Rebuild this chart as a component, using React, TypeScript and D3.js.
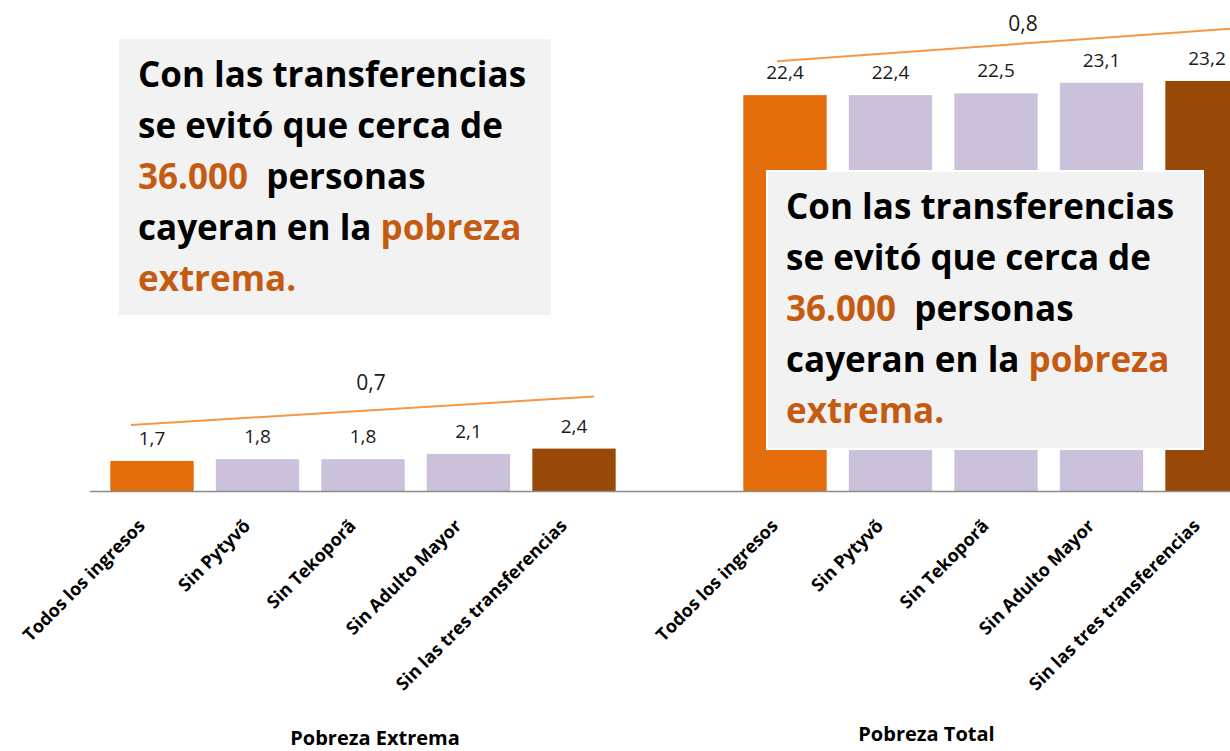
import React from "react";
import * as d3 from "d3";

const categories = ["Todos los ingresos", "Sin Pytyvõ", "Sin Tekoporã", "Sin Adulto Mayor", "Sin las tres transferencias"];
const extremaValues = [1.7, 1.8, 1.8, 2.1, 2.4];
const totalValues = [22.4, 22.4, 22.5, 23.1, 23.2];
const groupNames = ["Pobreza Extrema", "Pobreza Total"];
const gapLabels = ["0,7", "0,8"];
const barColors = ["#e46c0a", "#ccc1da", "#ccc1da", "#ccc1da", "#984807"];

const W = 1230;
const H = 751;
const FONT = "'Open Sans', Lato, sans-serif";

const fmt = (v: number) => d3.format(".1f")(v).replace(".", ",");

function Callout({ x, y, w, h, stroke }: { x: number; y: number; w: number; h: number; stroke?: string }) {
  const lines: { t: string; c: string }[][] = [
    [{ t: "Con las transferencias", c: "#000" }],
    [{ t: "se evitó que cerca de", c: "#000" }],
    [{ t: "36.000 ", c: "#c55a11" }, { t: " personas", c: "#000" }],
    [{ t: "cayeran en la ", c: "#000" }, { t: "pobreza", c: "#c55a11" }],
    [{ t: "extrema.", c: "#c55a11" }],
  ];
  return (
    <g>
      <rect x={x} y={y} width={w} height={h} fill="#f2f2f2" stroke={stroke || "none"} strokeWidth={2} />
      <text fontFamily={FONT} fontWeight={700} fontSize={35} style={{ whiteSpace: "pre" }}>
        {lines.map((ln, i) => (
          <tspan key={i} x={x + 19} y={y + 48 + i * 51}>
            {ln.map((s, j) => (
              <tspan key={j} fill={s.c}>{s.t}</tspan>
            ))}
          </tspan>
        ))}
      </text>
    </g>
  );
}

export default function App() {
  const keys = [...categories.map((_, i) => "e" + i), "gap", ...categories.map((_, i) => "t" + i)];
  const x = d3.scaleBand<string>().domain(keys).range([99.25, 1259.75]).paddingInner(0.21).paddingOuter(0.105);
  const y = d3.scaleLinear().domain([0, 23.2]).range([491, 81]);
  const bw = x.bandwidth();
  const cx = (k: string) => (x(k) as number) + bw / 2;

  const groups = [
    { prefix: "e", values: extremaValues },
    { prefix: "t", values: totalValues },
  ];

  // connector lines above each group (hand-placed in the original)
  const conn = [
    { x1: cx("e0") - 21, y1: y(extremaValues[0]) - 36, x2: cx("e4") + 20, y2: y(extremaValues[4]) - 52, lx: 371, ly: y(extremaValues[4]) - 59 },
    { x1: cx("t0") - 8, y1: y(totalValues[0]) - 34, x2: cx("t4") + 33, y2: y(totalValues[4]) - 53, lx: 1023, ly: y(totalValues[4]) - 50 },
  ];

  return (
    <>
      <style>{`body{margin:0;background:#fff}`}</style>
      <svg width={W} height={H} style={{ display: "block" }}>
        {groups.map((g, gi) => (
          <g key={gi}>
            {g.values.map((v, i) => {
              const k = g.prefix + i;
              return (
                <g key={k}>
                  <rect x={x(k)} y={y(v)} width={bw} height={y(0) - y(v)} fill={barColors[i]} />
                  <text x={cx(k)} y={y(v) - 16} textAnchor="middle" fontFamily={FONT} fontSize={19} fill="#1a1a1a">
                    {fmt(v)}
                  </text>
                  <text
                    transform={`translate(${cx(k) - 6},${527}) rotate(-45)`}
                    textAnchor="end"
                    fontFamily={FONT}
                    fontWeight={700}
                    fontSize={18}
                    fill="#000"
                  >
                    {categories[i]}
                  </text>
                </g>
              );
            })}
            <line x1={conn[gi].x1} y1={conn[gi].y1} x2={conn[gi].x2} y2={conn[gi].y2} stroke="#f79646" strokeWidth={2} />
            <text x={conn[gi].lx} y={conn[gi].ly} textAnchor="middle" fontFamily={FONT} fontSize={21} fill="#1a1a1a">
              {gapLabels[gi]}
            </text>
          </g>
        ))}
        <line x1={90} x2={W} y1={y(0) + 0.5} y2={y(0) + 0.5} stroke="#8c8c8c" strokeWidth={1.5} />
        <text x={375} y={745} textAnchor="middle" fontFamily={FONT} fontWeight={700} fontSize={20}>{groupNames[0]}</text>
        <text x={926.5} y={741} textAnchor="middle" fontFamily={FONT} fontWeight={700} fontSize={20}>{groupNames[1]}</text>
        <Callout x={119} y={39} w={432} h={276} />
        <Callout x={767} y={171} w={436} h={278} stroke="#fff" />
      </svg>
    </>
  );
}
